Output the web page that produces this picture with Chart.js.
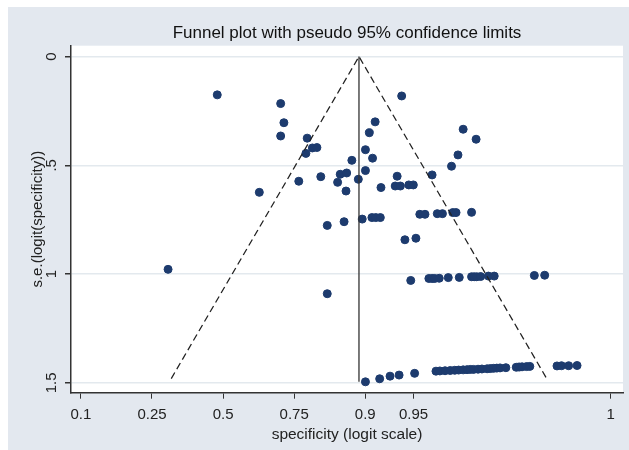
<!DOCTYPE html>
<html>
<head>
<meta charset="utf-8">
<title>Funnel plot</title>
<script src="https://cdn.jsdelivr.net/npm/chart.js@4.4.1/dist/chart.umd.min.js"></script>
<style>
    html, body { margin: 0; padding: 0; background: #fff; }
    #wrap { position: absolute; left: 8px; top: 7px; width: 621px; height: 443px; background: #e3e8ef; }
</style>
</head>
<body>
<div id="wrap"><canvas id="funnel"></canvas></div>
<script>
// x axis: specificity values where ticks sit (logit scale) and their labels
const tickSpec = [0.1, 0.25, 0.5, 0.75, 0.9, 0.95, 0.9975];
const tickSpecLabels = ['0.1', '0.25', '0.5', '0.75', '0.9', '0.95', '1'];

// y axis ticks
const seTicks = [0, 0.5, 1, 1.5];
const seTickLabels = ['0', '.5', '1', '1.5'];

// studies: logit(specificity) and s.e. of it
const studyLogit = [
    -0.09, 0.89, 0.94, 0.89, 1.30, 1.38, 1.45, 1.28, 1.99, 1.17, 1.51, 1.81, 1.91, 1.77, 1.90, 0.56, 2.09,
    2.76, 2.35, 2.26, 2.20, 2.31, 2.20, 2.44, 2.69, 2.66, 2.74, 2.87, 2.94, 3.23, 3.53, 3.63, 3.71, 3.91,
    1.61, 1.87, 2.15, 2.30, 2.36, 2.43, 3.04, 3.12, 3.31, 3.39, 3.55, 3.60, 3.84, 2.81, 2.98,
    -0.85, 1.61, 2.90, 3.18, 3.23, 3.27, 3.34, 3.48, 3.65, 3.84, 3.88, 3.92, 3.98, 4.10, 4.19, 4.81, 4.97,
    2.20, 2.42, 2.58, 2.72, 2.96,
    3.29, 3.35, 3.43, 3.51, 3.58, 3.64, 3.71, 3.77, 3.82, 3.87, 3.94, 4.00, 4.08, 4.13, 4.18, 4.23, 4.28, 4.37,
    4.53, 4.58, 4.62, 4.69, 4.74, 5.16, 5.23, 5.34, 5.47
];
const studySe = [
    0.176, 0.216, 0.304, 0.365, 0.375, 0.420, 0.418, 0.445, 0.477, 0.573, 0.552, 0.541, 0.535, 0.578, 0.618, 0.624, 0.564,
    0.181, 0.300, 0.350, 0.428, 0.467, 0.524, 0.602, 0.550, 0.595, 0.595, 0.590, 0.590, 0.544, 0.504, 0.452, 0.334, 0.380,
    0.776, 0.759, 0.747, 0.740, 0.740, 0.740, 0.725, 0.725, 0.722, 0.722, 0.717, 0.717, 0.716, 0.842, 0.835,
    0.978, 1.090, 1.029, 1.020, 1.020, 1.020, 1.019, 1.016, 1.015, 1.012, 1.012, 1.012, 1.011, 1.009, 1.009, 1.006, 1.005,
    1.495, 1.481, 1.469, 1.464, 1.456,
    1.446, 1.445, 1.444, 1.443, 1.442, 1.441, 1.440, 1.439, 1.438, 1.438, 1.437, 1.436, 1.435, 1.434, 1.433, 1.432, 1.431, 1.430,
    1.428, 1.427, 1.426, 1.425, 1.424, 1.422, 1.421, 1.421, 1.420
];

// pooled logit specificity and how far down the funnel / vertical line go
const summaryLogit = 2.10;
const funnelSeMax = 1.48;
const summarySeMax = 1.495;

function logit(p) {
    return Math.log(p / (1 - p));
}

const fontFamily = "'Liberation Sans', Arial, sans-serif";
const dotColor = '#1d3b6e';

const points = studyLogit.map((x, i) => ({ x: x, y: studySe[i] }));

const funnelLine = [
    { x: summaryLogit - 1.96 * funnelSeMax, y: funnelSeMax },
    { x: summaryLogit, y: 0 },
    { x: summaryLogit + 1.96 * funnelSeMax, y: funnelSeMax }
];
const summaryLine = [
    { x: summaryLogit, y: 0 },
    { x: summaryLogit, y: summarySeMax }
];

// white plot region on the grey background
const plotBackground = {
    id: 'plotBackground',
    beforeDraw(chart) {
        const a = chart.chartArea;
        chart.ctx.save();
        chart.ctx.fillStyle = '#fff';
        chart.ctx.fillRect(a.left, a.top, a.right - a.left, a.bottom - a.top);
        chart.ctx.restore();
    }
};

new Chart(document.getElementById('funnel'), {
    type: 'scatter',
    data: {
        datasets: [
            {
                label: 'pseudo 95% limits',
                data: funnelLine,
                showLine: true,
                borderColor: '#222',
                borderWidth: 1.3,
                borderDash: [7, 4],
                pointRadius: 0,
                fill: false
            },
            {
                label: 'summary',
                data: summaryLine,
                showLine: true,
                borderColor: '#333',
                borderWidth: 1.3,
                pointRadius: 0,
                fill: false
            },
            {
                label: 'studies',
                data: points,
                backgroundColor: dotColor,
                borderColor: dotColor,
                borderWidth: 1,
                pointRadius: 4
            }
        ]
    },
    options: {
        responsive: true,
        maintainAspectRatio: false,
        animation: false,
        layout: { padding: { left: 0, right: 6, top: 0, bottom: 0 } },
        plugins: {
            legend: { display: false },
            tooltip: { enabled: false },
            title: {
                display: true,
                fullSize: false,
                text: 'Funnel plot with pseudo 95% confidence limits',
                color: '#111',
                font: { family: fontFamily, size: 17, weight: 'normal' },
                padding: { top: 15.8, bottom: 2.5 }
            }
        },
        scales: {
            x: {
                type: 'linear',
                min: -2.35,
                max: 6.18,
                afterBuildTicks: function(scale) {
                    scale.ticks = tickSpec.map(p => ({ value: logit(p) }));
                },
                afterFit: function(scale) {
                    scale.height = 57.3;
                },
                ticks: {
                    autoSkip: false,
                    maxRotation: 0,
                    padding: 7,
                    color: '#222',
                    font: { family: fontFamily, size: 15 },
                    callback: function(value, index) {
                        return tickSpecLabels[index];
                    }
                },
                grid: {
                    drawOnChartArea: false,
                    drawTicks: true,
                    tickLength: 6,
                    tickColor: '#333'
                },
                border: { display: true, color: '#333', width: 1.5 },
                title: {
                    display: true,
                    text: 'specificity (logit scale)',
                    color: '#222',
                    font: { family: fontFamily, size: 15.5 },
                    padding: { top: 0, bottom: 6.2 }
                }
            },
            y: {
                type: 'linear',
                reverse: true,
                min: -0.05,
                max: 1.545,
                afterBuildTicks: function(scale) {
                    scale.ticks = seTicks.map(v => ({ value: v }));
                },
                afterFit: function(scale) {
                    scale.width = 63;
                },
                ticks: {
                    autoSkip: false,
                    minRotation: 90,
                    maxRotation: 90,
                    crossAlign: 'center',
                    padding: 3,
                    color: '#222',
                    font: { family: fontFamily, size: 15 },
                    callback: function(value, index) {
                        return seTickLabels[index];
                    }
                },
                grid: {
                    color: '#e3e9ee',
                    lineWidth: 1.5,
                    drawTicks: true,
                    tickLength: 6,
                    tickColor: '#333'
                },
                border: { display: true, color: '#333', width: 1.5 },
                title: {
                    display: true,
                    text: 's.e.(logit(specificity))',
                    color: '#222',
                    font: { family: fontFamily, size: 15 },
                    padding: { top: 20.5, bottom: 0 }
                }
            }
        }
    },
    plugins: [plotBackground]
});
</script>
</body>
</html>
